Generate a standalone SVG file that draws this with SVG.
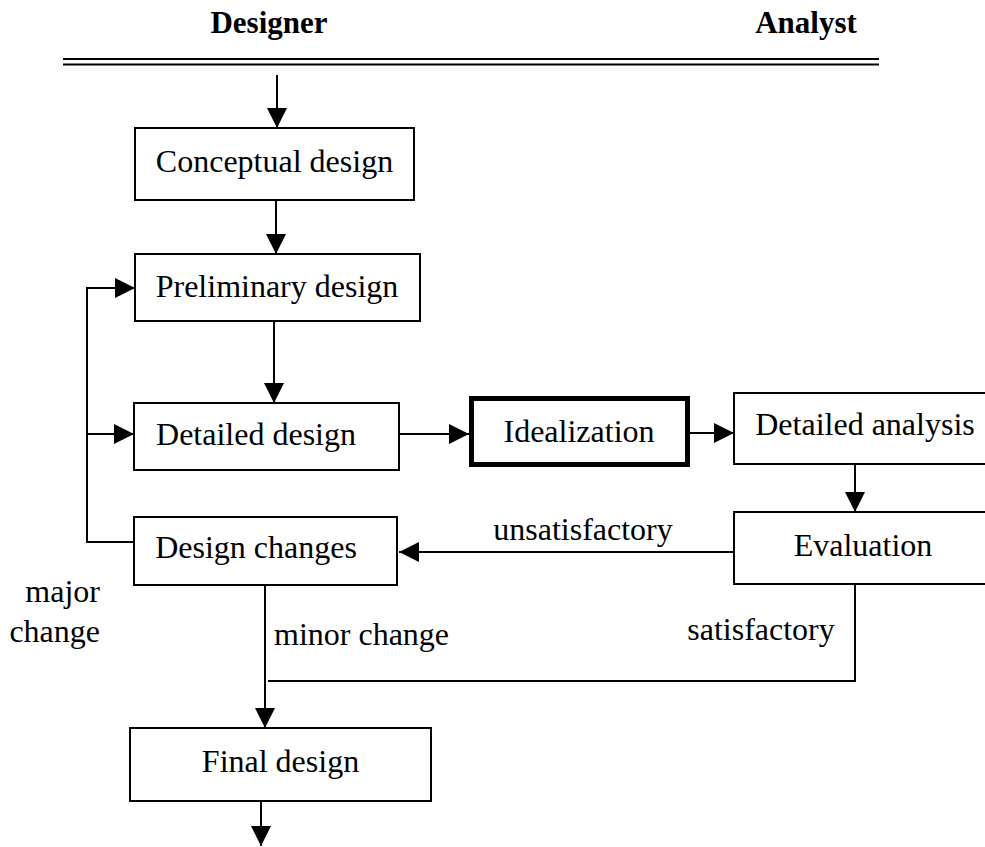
<svg xmlns="http://www.w3.org/2000/svg" width="985" height="847" viewBox="0 0 985 847">
<defs>
<style>
.box{fill:#fff;stroke:#000;stroke-width:2}
.thick{fill:#fff;stroke:#000;stroke-width:5}
.t{font-family:"Liberation Serif","Times New Roman",serif;font-size:32px;fill:#000}
.h{font-family:"Liberation Serif","Times New Roman",serif;font-size:31px;font-weight:bold;fill:#000}
.ln{fill:none;stroke:#000;stroke-width:2}
</style>
<marker id="ah" viewBox="0 0 20 20" refX="20" refY="10" markerWidth="20" markerHeight="20" markerUnits="userSpaceOnUse" orient="auto">
<path d="M0,0 L20,10 L0,20 Z" fill="#000"/>
</marker>
</defs>
<rect width="985" height="847" fill="#fff"/>
<g id="header">
<text class="h" x="269" y="33" text-anchor="middle">Designer</text>
<text class="h" x="806" y="33" text-anchor="middle">Analyst</text>
<line x1="63" y1="59" x2="879" y2="59" stroke="#000" stroke-width="2.2"/>
<line x1="63" y1="64.5" x2="879" y2="64.5" stroke="#000" stroke-width="2.2"/>
</g>
<g id="connectors">
<line class="ln" x1="277" y1="75" x2="277" y2="128" marker-end="url(#ah)"/>
<line class="ln" x1="276" y1="200" x2="276" y2="254" marker-end="url(#ah)"/>
<line class="ln" x1="274" y1="321" x2="274" y2="403" marker-end="url(#ah)"/>
<line class="ln" x1="399" y1="434" x2="469" y2="434" marker-end="url(#ah)"/>
<line class="ln" x1="690" y1="433" x2="734" y2="433" marker-end="url(#ah)"/>
<line class="ln" x1="855" y1="464" x2="855" y2="512" marker-end="url(#ah)"/>
<line class="ln" x1="734" y1="552" x2="399" y2="552" marker-end="url(#ah)"/>
<polyline class="ln" points="134,542 87,542 87,288 135,288" marker-end="url(#ah)"/>
<line class="ln" x1="87" y1="434" x2="134" y2="434" marker-end="url(#ah)"/>
<line class="ln" x1="265" y1="585" x2="265" y2="728" marker-end="url(#ah)"/>
<polyline class="ln" points="855,584 855,681 268,681"/>
<line class="ln" x1="261" y1="801" x2="261" y2="846" marker-end="url(#ah)"/>
<text class="t" x="583" y="540" text-anchor="middle">unsatisfactory</text>
<text class="t" x="761" y="640" text-anchor="middle">satisfactory</text>
<text class="t" x="274" y="645">minor change</text>
<text class="t" x="100" y="602" text-anchor="end">major</text>
<text class="t" x="100" y="642" text-anchor="end">change</text>
</g>
<g id="conceptual">
<rect class="box" x="135" y="128" width="279" height="72"/>
<text class="t" x="274.5" y="172" text-anchor="middle">Conceptual design</text>
</g>
<g id="preliminary">
<rect class="box" x="135" y="254" width="285" height="67"/>
<text class="t" x="277" y="297" text-anchor="middle">Preliminary design</text>
</g>
<g id="detailed-design">
<rect class="box" x="134" y="403" width="265" height="67"/>
<text class="t" x="256" y="445" text-anchor="middle">Detailed design</text>
</g>
<g id="idealization">
<rect class="thick" x="471.5" y="398.5" width="216" height="66"/>
<text class="t" x="579" y="442" text-anchor="middle">Idealization</text>
</g>
<g id="detailed-analysis">
<rect class="box" x="734" y="393" width="260" height="71"/>
<text class="t" x="865" y="435" text-anchor="middle">Detailed analysis</text>
</g>
<g id="evaluation">
<rect class="box" x="734" y="512" width="260" height="72"/>
<text class="t" x="863" y="556" text-anchor="middle">Evaluation</text>
</g>
<g id="design-changes">
<rect class="box" x="134" y="517" width="263" height="68"/>
<text class="t" x="256" y="558" text-anchor="middle">Design changes</text>
</g>
<g id="final-design">
<rect class="box" x="130" y="728" width="301" height="73"/>
<text class="t" x="280.5" y="772" text-anchor="middle">Final design</text>
</g>
</svg>
